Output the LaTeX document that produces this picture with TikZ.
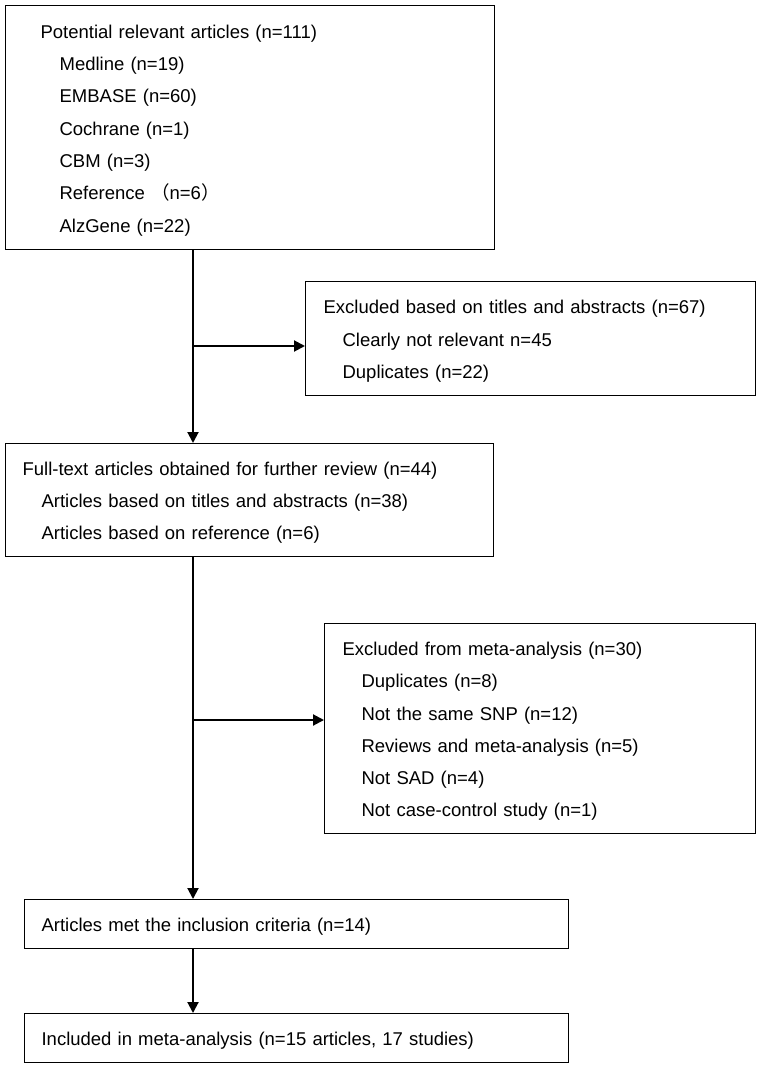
\documentclass[tikz,border=0pt]{standalone}
\usepackage{fontspec}
\setmainfont{Liberation Sans}
\newfontfamily\cjk{Noto Sans CJK SC}
\usetikzlibrary{arrows.meta}

\begin{document}
\begin{tikzpicture}[x=1pt, y=-1pt,
    record/.style ={draw, line width=1.2pt, anchor=north west, align=left,
      inner ysep=0pt, text height=19pt, font=\fontsize{18.5}{32.3}\selectfont},
    link/.style ={line width=2pt, -{Triangle[length=11pt, width=11pt]}}]
   \useasboundingbox (0,0) rectangle (761,1067);

   \node[record, inner xsep=35pt, text width=419pt, minimum height=244pt] (A) at (5,5)
     {Potential relevant articles (n=111)\\
      \hspace*{19pt}Medline (n=19)\\
      \hspace*{19pt}EMBASE (n=60)\\
      \hspace*{19pt}Cochrane (n=1)\\
      \hspace*{19pt}CBM (n=3)\\
      \hspace*{19pt}Reference {\cjk （}n=6{\cjk ）}\\
      \hspace*{19pt}AlzGene (n=22)};
   \node[record, inner xsep=18pt, text width=414pt, minimum height=114pt] (B) at (305,281)
     {Excluded based on titles and abstracts (n=67)\\
      \hspace*{19pt}Clearly not relevant n=45\\
      \hspace*{19pt}Duplicates (n=22)};
   \node[record, inner xsep=17pt, text width=454pt, minimum height=113pt] (C) at (5,443)
     {Full-text articles obtained for further review (n=44)\\
      \hspace*{19pt}Articles based on titles and abstracts (n=38)\\
      \hspace*{19pt}Articles based on reference (n=6)};
   \node[record, inner xsep=18pt, text width=395pt, minimum height=210pt] (D) at (324,623)
     {Excluded from meta-analysis (n=30)\\
      \hspace*{19pt}Duplicates (n=8)\\
      \hspace*{19pt}Not the same SNP (n=12)\\
      \hspace*{19pt}Reviews and meta-analysis (n=5)\\
      \hspace*{19pt}Not SAD (n=4)\\
      \hspace*{19pt}Not case-control study (n=1)};
   \node[record, inner xsep=17pt, text width=510pt, minimum height=49pt] (E) at (24,899)
     {Articles met the inclusion criteria (n=14)};
   \node[record, inner xsep=17pt, text width=510pt, minimum height=49pt] (F) at (24,1013)
     {Included in meta-analysis (n=15 articles, 17 studies)};

   \coordinate (P) at (193,346);
   \coordinate (Q) at (193,720);

   \draw[link] (P |- A.south) to (P |- C.north);
   \draw[link] (P) to (P -| B.west);
   \draw[link] (P |- C.south) to (P |- E.north);
   \draw[link] (Q) to (Q -| D.west);
   \draw[link] (P |- E.south) to (P |- F.north);
 \end{tikzpicture}
\end{document}
